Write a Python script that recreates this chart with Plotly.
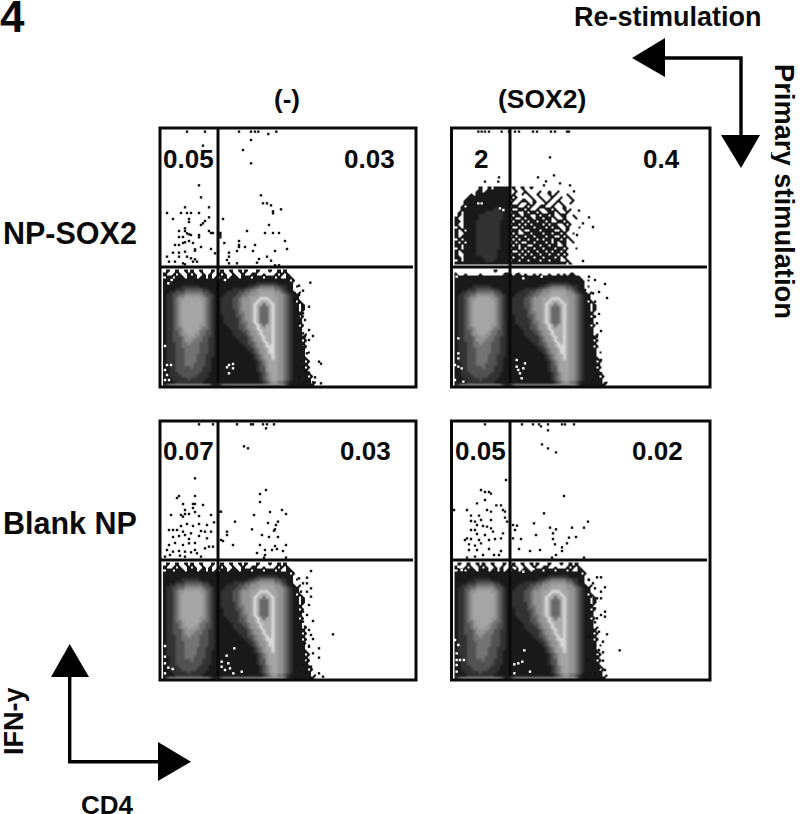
import plotly.graph_objects as go

W, H = 800, 814

# ---- density grids (level 0 = empty ... 7 = light ring, 9 = peak), rows top to bottom
LOWER_LEFT = [
"010010010100100010","100101001010010100","011011101110110101","111111111111111111","111111111111111111",
"111111222222111111","111122233333322111","112233344444433211","122334455555543321","122345566666554321",
"122345666666654321","122345666666654321","122345666666654321","122345666666654321","122345666666654321",
"122345666666654321","122345666666654321","122345666666654321","122345666666554321","122344566666544321",
"122334566665443321","122334556655443321","122333455554433221","122333455544433221","122233445444333221",
"122233444444333221","122233344444333221","122233344444333221","122233344443332221","122233344443332211",
"122233344443332211","112233344433332211","112233333433322211","112233333333322211","112223333333222111",
"112222333332222111","111222223222221111","111122222222211111","245555555555555421",
]
LOWER_RIGHT = [
"0100100101000100010010100000000000",
"1010010010011001000101010000000000",
"0110111011101110111010011000000000",
"1111111111111111111111110100000000",
"1111111111111222222211111000000000",
"1111111111223344444332211010000000",
"1111122223344555555443211000000000",
"1112222334455566666554321101000000",
"1122223344555666666555432110000000",
"1222233455566677766655432110000000",
"1222233455566788876655432101000000",
"1222233455567889887655432110100000",
"1222233455567899987655432110100000",
"1222223455567899987655432110100000",
"1222223445567899987655432111000000",
"1122223345567899987655432110100000",
"1122222345567899987655432111000000",
"1122222344567899987655432111000000",
"1112222334556789887655432110100000",
"1111222334556788887655432111000000",
"1111122233455678887655432111000000",
"1111122223455678887655432111010000",
"1111112222345567887655432111100000",
"1111111222345567887655432111010000",
"1111111122334556787655432111100000",
"1111111112234556777655432111010000",
"1111111111223455677655432111100000",
"1111111111123455677655432111101000",
"1111111111112345667655432111100000",
"1111111111112345667655432111110000",
"1111111111111234566655432111101000",
"1111111111111234566655432111110000",
"1111111111111233566655432111101000",
"1111111111111233566655432111110000",
"1111111111111123456655432111111000",
"1111111111111123456655432111110100",
"1111111111111123456655432111111000",
"1111111111111112345544321111111010",
"2455555555555555555555421111111100",
]
P2_LOWER_TOP_LEFT = ["000000000000010000", "100100001000000011", "111111111111111111", "111111111111111111"]
P2_LOWER_TOP_RIGHT = [
"0000000000000000000000000000000000",
"1011010010100100101011000000000000",
"1111111111111111111111110000000000",
"1111111111111111111111111010000000",
]
P2_UPPER = [
"0000000010010111110100100100000000000000000",
"0000000110111111110010010000100100100000000",
"0000010111111111110100101001000101000100000",
"0000111111111111111010000100100010010010000",
"0001111111111111110100110010010100100001000",
"0001111111111111111001001010001001010010000",
"0010111111111111110110010100110010001000000",
"0011111111111221111001101001001101001010000",
"0101111111222222110110010110100110100100000",
"0101111122222222111011011001011010011001000",
"1001111122222222110100101101101101001000100",
"1101111222222221111011010110110100110100000",
"1001111222222221110110101011101011001010000",
"0101111222222221111001011101110101100100010",
"1010111222222221110110100111011110010100000",
"1001111222222221111010011011101101101001000",
"1011111222222221110101101101110110010100000",
"0101111222222221111010110110101101101010000",
"1010111222222221110101001101110101011001000",
"1101111222222221111010110011011011001000000",
"0101111222222221110110101101101110110100100",
"1011111222222211111001010110110101101000000",
"1001111222222211110110101011011011010100000",
"1101111112222211111011011101101110101000000",
"0101111111222111110110110111011011100100000",
"1111111111111111111111111111111111111010000",
]

# ---- sparse events
P1_BLACK = [(111,35),(165,35),(267,35),(303,35),(315,35),(325,35),(379,35),(355,42),(303,60),(279,90),(303,130),(159,77),
(147,196),(153,232),(177,262),(105,262),(51,279),(93,279),(111,279),(123,279),(147,279),(177,292),(69,297),(117,297),(117,306),(165,303),(159,310),(153,315),(105,325),(87,333),(105,333),(111,340),(117,343),(123,345),(177,333),(183,339),(147,345),(147,352),(189,339),(99,351),(87,351),(117,363),(105,367),(99,369),(75,375),(87,375),(129,369),(153,381),(183,387),(135,388),(51,410),(69,398),(87,398),(105,395),(135,392),(87,410),(111,410),(123,415),(135,418),(129,425),(141,425),(57,425),(75,425),(99,430),(105,433),(195,400),
(219,297),(333,226),(339,250),(351,250),(363,256),(369,274),(369,280),(393,268),(357,315),(291,333),(345,339),(369,339),(387,339),(211,339),(211,345),(211,352),(223,369),(267,363),(267,375),(267,381),(261,393),(285,381),(315,375),(405,363),(411,387),(375,393),(237,398),(237,410),(231,420),(309,393),(351,410),(327,417),(321,428),(363,422),(237,430),(261,430),(375,436),(387,436),
(481,488),(447,497),(459,512),(435,520),(447,525),(435,540),(447,548),(459,560),(477,560),(441,570),(459,580),(447,590),(465,600),(447,610),(477,630),(459,640),(465,650),(489,648),(477,660),(447,660),(459,680),(453,690),(471,700),(507,725),(513,731),(459,740),(465,755),(477,758),(447,770),(495,772),(471,785),(513,790),(489,787)]
P1_WHITE = [(45,678),(51,735),(63,735),(45,750),(51,765),(45,780),(57,780),(237,735),(249,732),(249,745),(237,760),(231,742),(55,490),(65,480),(225,480)]

P2_BLACK = [(115,35),(125,35),(135,35),(147,35),(185,35),(207,35),(225,35),(237,35),(279,35),(291,35),(333,35),(345,35),(381,35),(387,35),(330,112),
(177,172),(175,185),(135,185),(342,166),(294,172),(318,184),(312,196),(360,190),(390,196),(402,214),(447,292),(459,321),(429,310),(417,272),(411,345),(429,423),(495,492),(477,516),(501,534),(465,545),(477,582),(483,633),(471,650),
(447,470),(465,480),(435,510),(459,520),(447,535),(465,590),(453,600),(471,610),(483,720),(477,735),(465,750),(483,760),(471,770),(459,780),(495,790)]
P2_WHITE = [(55,655),(55,700),(55,715),(45,735),(55,740),(65,745),(45,780),(70,785),(230,720),(230,740),(235,750),(240,760),(245,775),(255,730),(250,745),(180,265),(190,270),(125,250),(115,250),(55,450),(50,470),(230,455),(250,475),(280,450),(305,470),(335,458)]

P3_BLACK = [(147,28),(189,28),(261,28),(303,28),(309,28),(339,28),(351,28),(372,28),(348,40),(282,94),(294,100),(135,190),(348,225),(330,237),(87,243),(81,249),(135,243),(330,261),(99,267),(129,267),(135,267),(159,270),(129,279),(105,285),(105,297),(63,300),(93,300),(99,305),(117,297),(135,291),(147,303),(183,300),(213,290),(207,290),(396,285),(408,297),(360,291),(384,320),(354,324),(378,330),(312,300),(255,320),(375,343),(372,347),(57,345),(69,345),(81,345),(93,333),(111,327),(129,333),(147,327),(171,330),(192,322),(183,350),(165,350),(153,348),(99,350),(69,366),(87,363),(105,360),(123,355),(147,363),(171,370),(117,372),(75,384),(57,390),(99,390),(117,385),(135,384),(177,395),(189,395),(165,400),(213,375),(219,378),(231,350),(231,360),(249,390),(306,343),(336,360),(357,366),(384,366),(375,393),(408,390),(330,390),(345,405),(366,405),(381,402),(399,408),(321,414),(345,420),(51,405),(69,410),(87,408),(105,410),(123,412),(135,405),(141,415),(153,425),(60,420),(45,425),(90,422),(105,425),(342,428),(408,428),
(483,468),(471,488),(447,490),(459,505),(471,505),(483,520),(453,530),(471,530),(483,545),(459,560),(477,570),(459,590),(471,600),(489,618),(459,620),(465,635),(477,645),(483,660),(489,672),(465,685),(477,695),(507,700),(489,715),(507,728),(471,740),(459,750),(483,755),(465,770),(507,775),(519,785),(549,658)]
P3_WHITE = [(45,693),(45,725),(45,745),(55,758),(68,762),(45,775),(253,700),(230,722),(215,740),(235,745),(215,755),(240,760),(225,765),(250,775),(275,770)]

P4_BLACK = [(135,28),(246,28),(279,28),(297,28),(303,34),(324,28),(366,28),(375,28),(402,28),(324,46),(306,88),(324,100),(348,112),(198,195),(372,243),(123,225),(135,231),(147,231),(153,236),(135,255),(111,265),(169,271),(183,271),(81,285),(141,285),(153,290),(189,285),(195,290),(93,302),(117,302),(312,295),(195,308),(105,320),(93,318),(123,315),(153,315),(201,320),(219,330),(231,332),(225,345),(282,325),(444,320),(432,338),(396,338),(330,338),(348,343),(339,355),(288,360),(111,330),(129,333),(141,335),(153,340),(159,350),(189,355),(93,345),(105,345),(111,357),(135,360),(81,370),(75,375),(93,372),(117,375),(147,375),(165,372),(183,370),(219,370),(243,372),(387,368),(408,366),(339,372),(345,388),(381,385),(87,388),(105,392),(123,385),(87,405),(111,405),(147,402),(183,408),(162,420),(177,420),(237,402),(270,408),(300,405),(366,397),(366,408),(348,420),(432,428),(336,428),(81,428),(105,425),(129,420),(42,285),
(483,487),(471,487),(447,495),(459,505),(495,517),(435,517),(465,520),(483,530),(453,545),(471,550),(483,550),(495,590),(453,570),(465,580),(483,600),(471,610),(495,605),(465,622),(477,650),(501,658),(471,672),(447,665),(489,680),(465,690),(477,705),(489,712),(539,706),(471,725),(489,737),(459,750),(441,735),(477,760),(495,765),(465,775)]
P4_WHITE = [(45,675),(55,690),(50,715),(50,735),(60,735),(72,735),(50,750),(50,770),(253,706),(223,748),(235,745),(247,740),(223,775),(270,770),(55,455),(65,465),(225,460),(250,470),(280,462)]

ROW_LABELS = ["NP-SOX2", "Blank NP"]
COL_LABELS = ["(-)", "(SOX2)"]
UL_VALUES = ["0.05", "2", "0.07", "0.05"]
UR_VALUES = ["0.03", "0.4", "0.03", "0.02"]

# ---- layout of the four panels in pixels
PANELS = [
    dict(l=160, r=416, t=128, b=387, ox=150, oy=120, gx=218, gy=267, black=P1_BLACK, white=P1_WHITE),
    dict(l=451.5, r=710, t=128, b=387, ox=440, oy=120, gx=510, gy=267, black=P2_BLACK, white=P2_WHITE),
    dict(l=160, r=416, t=421, b=680, ox=150, oy=415, gx=218, gy=560, black=P3_BLACK, white=P3_WHITE),
    dict(l=451.5, r=710, t=421, b=680, ox=440, oy=415, gx=510, gy=560, black=P4_BLACK, white=P4_WHITE),
]
VAL_POS = [((188.5,159),(369,159)), ((481,159),(661.5,159)), ((188.5,451),(365,451)), ((481,451),(657,451))]

LEVEL_GRAYS = [25, 50, 82, 115, 148, 165, 218, 172, 105]
scale = [[0, "rgb(255,255,255)"], [0.5/9, "rgb(255,255,255)"], [0.5/9, "rgb(25,25,25)"]]
for i, g in enumerate(LEVEL_GRAYS):
    scale.append([(i+1)/9, f"rgb({g},{g},{g})"])

def px(x): return x / W
def py(y): return 1 - y / H

def digits(rows):
    return [[int(c) for c in r] for r in rows]

fig = go.Figure()
shapes = []
annotations = []
axes = {}
for i, p in enumerate(PANELS):
    s = "" if i == 0 else str(i+1)
    axes[f"xaxis{s}"] = dict(domain=[px(p["l"]), px(p["r"])], range=[(p["l"]-p["ox"])*3, (p["r"]-p["ox"])*3],
                             visible=False, anchor=f"y{s}", fixedrange=True)
    axes[f"yaxis{s}"] = dict(domain=[py(p["b"]), py(p["t"])], range=[(p["b"]-p["oy"])*3, (p["t"]-p["oy"])*3],
                             visible=False, anchor=f"x{s}", fixedrange=True)
    shift_x = p["l"] - 160
    shift_y = p["t"] - 128
    left, right = list(LOWER_LEFT), list(LOWER_RIGHT)
    if i == 1:
        left[:4] = P2_LOWER_TOP_LEFT
        right[:4] = P2_LOWER_TOP_RIGHT
    rows = [a + b for a, b in zip(left, right)]
    x0 = (164.5 + shift_x - p["ox"]) * 3
    y0 = (271 + shift_y - p["oy"]) * 3
    fig.add_trace(go.Heatmap(z=digits(rows), x0=x0, dx=9, y0=y0, dy=9, zmin=0, zmax=9, colorscale=scale,
                             showscale=False, zsmooth="best", hoverinfo="skip", xaxis=f"x{s}", yaxis=f"y{s}"))
    if i == 1:
        fig.add_trace(go.Heatmap(z=digits(P2_UPPER), x0=x0, dx=9, y0=(188 - p["oy"]) * 3, dy=9, zmin=0, zmax=9,
                                 colorscale=scale, showscale=False, zsmooth="best", hoverinfo="skip", xaxis=f"x{s}", yaxis=f"y{s}"))
    for pts, col in ((p["black"], "#111111"), (p["white"], "#ffffff")):
        fig.add_trace(go.Scatter(x=[q[0] for q in pts], y=[q[1] for q in pts], mode="markers",
                                 marker=dict(symbol="square", size=2.4, color=col, line=dict(width=0)),
                                 hoverinfo="skip", showlegend=False, xaxis=f"x{s}", yaxis=f"y{s}"))
    line = dict(color="#0a0a0a", width=3)
    shapes.append(dict(type="rect", xref="paper", yref="paper", x0=px(p["l"]), x1=px(p["r"]), y0=py(p["t"]), y1=py(p["b"]), line=line))
    shapes.append(dict(type="line", xref="paper", yref="paper", x0=px(p["gx"]), x1=px(p["gx"]), y0=py(p["t"]), y1=py(p["b"]-4), line=line))
    shapes.append(dict(type="line", xref="paper", yref="paper", x0=px(p["l"]), x1=px(p["r"]-3), y0=py(p["gy"]), y1=py(p["gy"]), line=line))

def text(t, x, y, size, angle=0, anchor="center", height=None):
    annotations.append(dict(text=f"<b>{t}</b>", x=px(x), y=py(y), xref="paper", yref="paper", showarrow=False,
                            xanchor=anchor, yanchor="middle", textangle=angle, height=height,
                            font=dict(family="Liberation Sans", size=size, color="#0a0a0a")))

for (a, b), ul, ur in zip(VAL_POS, UL_VALUES, UR_VALUES):
    text(ul, a[0], a[1], 26)
    text(ur, b[0], b[1], 26)
text("4", 12, 17, 44, height=33)
text("Re-stimulation", 668, 17, 27)
text(COL_LABELS[0], 287, 99, 26)
text(COL_LABELS[1], 542, 99, 26.5)
text(ROW_LABELS[0], 1, 233, 30.5, anchor="left")
text(ROW_LABELS[1], 1, 523, 30.5, anchor="left")
text("Primary stimulation", 785, 191, 27.3, angle=90, height=27)
text("IFN-y", 14, 721, 27, angle=-90)
text("CD4", 107, 804, 26, height=19)

def poly(pts):
    path = "M " + " L ".join(f"{px(x)} {py(y)}" for x, y in pts) + " Z"
    shapes.append(dict(type="path", path=path, xref="paper", yref="paper", fillcolor="#000000", line=dict(width=0)))

def seg(pts):
    path = "M " + " L ".join(f"{px(x)} {py(y)}" for x, y in pts)
    shapes.append(dict(type="path", path=path, xref="paper", yref="paper", line=dict(color="#000000", width=3.4)))

seg([(665,58),(741,58),(741,136)])
poly([(632,58),(665,38),(665,77)])
poly([(721,135),(760,135),(741,168)])
seg([(69.7,677),(69.7,761.7),(158,761.7)])
poly([(69.7,644),(51,677),(89,677)])
poly([(158,742),(158,781),(191,761.7)])

fig.update_layout(width=W, height=H, margin=dict(l=0, r=0, t=0, b=0), paper_bgcolor="white", plot_bgcolor="white",
                  showlegend=False, shapes=shapes, annotations=annotations, hovermode=False, **axes)
fig.write_html("out.html", post_script="document.body.style.margin='0';", config={"displayModeBar": False})
